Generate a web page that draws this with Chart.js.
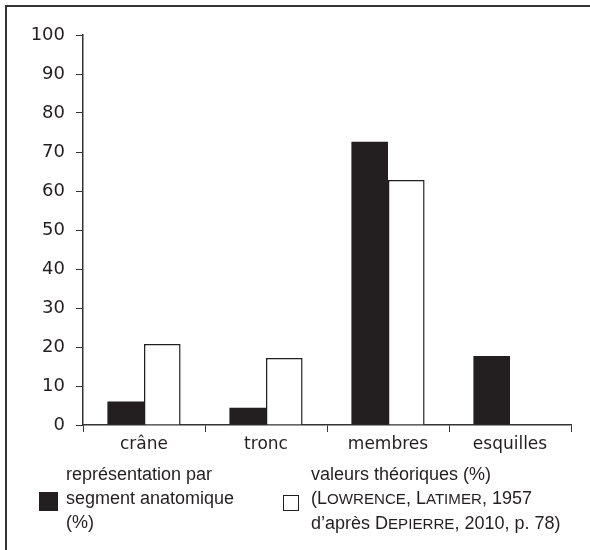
<!DOCTYPE html>
<html>
<head>
<meta charset="utf-8">
<script src="https://cdn.jsdelivr.net/npm/chart.js@4"></script>
<style>
  body { margin: 0; background: #fff; }
  #wrap { position: relative; width: 590px; height: 550px; overflow: hidden; }
  #frame { position: absolute; left: 5px; top: 5px; right: -10px; bottom: -10px;
           border-top: 2px solid #333; border-left: 2px solid #333; }
  .leg { position: absolute; font-family: "Liberation Sans", Arial, sans-serif;
         font-size: 18px; line-height: 24px; color: #231f20; white-space: nowrap; }
  .sc { font-size: 0.84em; text-transform: uppercase; }
  .box { position: absolute; box-sizing: border-box; }
</style>
</head>
<body>
<div id="wrap">
  <div id="frame"></div>
  <canvas id="chart" width="590" height="550"></canvas>
  <div class="box" style="left:39px;top:492px;width:19px;height:19px;background:#231f20;"></div>
  <div class="leg" style="left:66px;top:462px;">représentation par<br>segment anatomique<br>(%)</div>
  <div class="box" style="left:283px;top:495px;width:16px;height:16px;border:1.5px solid #231f20;background:#fff;"></div>
  <div class="leg" style="left:311px;top:462px;">valeurs théoriques (%)<br>(L<span class="sc">owrence</span>, L<span class="sc">atimer</span>, 1957<br>d’après D<span class="sc">epierre</span>, 2010, p. 78)</div>
</div>
<script>
// segments anatomiques
const categories = ['crâne', 'tronc', 'membres', 'esquilles'];
const representation = [6, 4.4, 72.6, 17.7];
const theoriques = [20.8, 17.2, 62.8, 0];

const ink = '#231f20';

new Chart(document.getElementById('chart'), {
    type: 'bar',
    data: {
        labels: categories,
        datasets: [
            { label: 'représentation par segment anatomique (%)', data: representation,
              backgroundColor: ink, borderColor: ink, borderWidth: 0 },
            { label: 'valeurs théoriques (%)', data: theoriques,
              backgroundColor: '#fff', borderColor: ink, borderWidth: 1.5 }
        ]
    },
    options: {
        responsive: false,
        animation: false,
        categoryPercentage: 0.6,
        barPercentage: 1.0,
        layout: { padding: { top: 35, right: 19, left: 0, bottom: 0 } },
        plugins: { legend: { display: false }, tooltip: { enabled: false } },
        scales: {
            x: {
                afterFit: s => { s.height = 125; },
                grid: { offset: true, drawOnChartArea: false, drawTicks: true, tickLength: 7, color: '#333', lineWidth: 1 },
                border: { display: true, color: '#333', width: 1.5 },
                ticks: { color: ink, padding: 2, font: { family: 'DejaVu Sans', size: 17 } }
            },
            y: {
                min: 0,
                max: 100,
                afterFit: s => { s.width = 83; },
                grid: { drawOnChartArea: false, drawTicks: true, tickLength: 7, color: '#333', lineWidth: 1 },
                border: { display: true, color: '#333', width: 1.5 },
                ticks: { stepSize: 10, color: ink, padding: 11, font: { family: 'DejaVu Sans', size: 18 } }
            }
        }
    }
});
</script>
</body>
</html>
